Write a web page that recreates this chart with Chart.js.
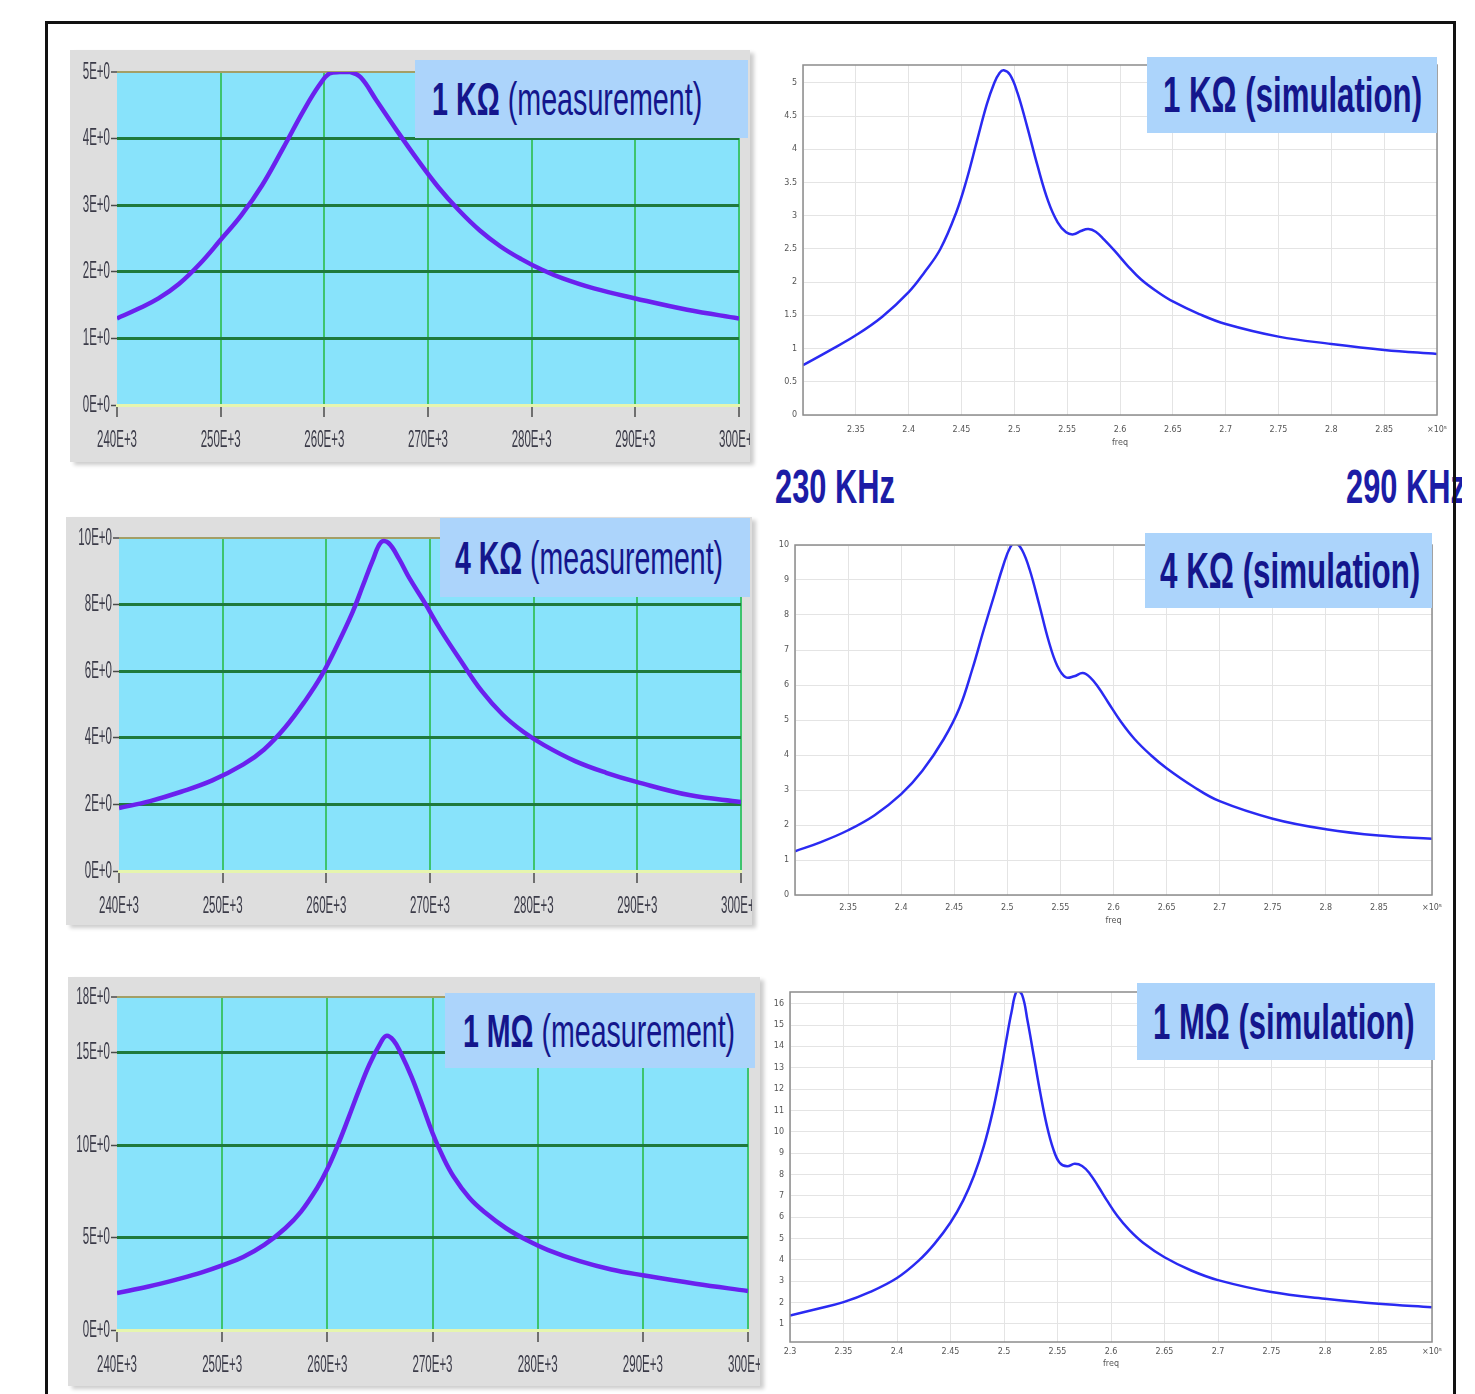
<!DOCTYPE html>
<html>
<head>
<meta charset="utf-8">
<title>Resonance: measurement vs simulation</title>
<script src="https://cdn.jsdelivr.net/npm/chart.js@4.4.1/dist/chart.umd.min.js"></script>
<style>
  html, body { margin: 0; padding: 0; background: #fff; }
  body { position: relative; width: 1475px; height: 1394px; overflow: hidden; font-family: "Liberation Sans", Arial, sans-serif; }
  .panel { position: absolute; background: #dedede; box-shadow: 4px 3px 4px rgba(0, 0, 0, 0.2); overflow: hidden; }
  canvas { position: absolute; display: block; }
  .tag { position: absolute; background: #acd4fb; display: flex; align-items: center; z-index: 3; overflow: hidden; }
  .fit { display: inline-block; white-space: nowrap; transform-origin: 0 50%; color: #14168c; line-height: 1; }
  .fit b { font-weight: bold; }
  .meas .fit { font-size: 46px; }
  .sim .fit { font-size: 50px; font-weight: bold; }
  .frame { position: absolute; background: #111; z-index: 5; }
  .khz { position: absolute; z-index: 2; overflow: hidden; height: 46px; display: flex; align-items: center; }
  .khz .fit { color: #1c1ca6; font-weight: bold; font-size: 48px; }
</style>
</head>
<body>

<div class="frame" style="left:45px;top:21px;width:1411px;height:3px"></div>
<div class="frame" style="left:45px;top:21px;width:3px;height:1373px"></div>
<div class="frame" style="left:1453px;top:21px;width:3px;height:1373px"></div>

<div class="panel" style="left:70px;top:50px;width:680px;height:412px"><canvas id="m1" width="680" height="412"></canvas></div>
<div class="panel" style="left:66px;top:517px;width:686px;height:408px"><canvas id="m2" width="686" height="408"></canvas></div>
<div class="panel" style="left:68px;top:977px;width:692px;height:409px"><canvas id="m3" width="692" height="409"></canvas></div>

<canvas id="s1" width="685" height="398" style="left:765px;top:50px"></canvas>
<canvas id="s2" width="685" height="396" style="left:765px;top:530px"></canvas>
<canvas id="s3" width="685" height="394" style="left:765px;top:975px"></canvas>

<div class="tag meas" style="left:415px;top:60px;width:333px;height:78px"><span class="fit" data-w="270" style="margin-left:17px"><b>1 KΩ</b> (measurement)</span></div>
<div class="tag meas" style="left:440px;top:518px;width:310px;height:79px"><span class="fit" data-w="268" style="margin-left:15px"><b>4 KΩ</b> (measurement)</span></div>
<div class="tag meas" style="left:445px;top:993px;width:310px;height:75px"><span class="fit" data-w="272" style="margin-left:18px"><b>1 MΩ</b> (measurement)</span></div>

<div class="tag sim" style="left:1147px;top:57px;width:290px;height:76px"><span class="fit" data-w="259" style="margin-left:16px">1 KΩ (simulation)</span></div>
<div class="tag sim" style="left:1145px;top:533px;width:287px;height:75px"><span class="fit" data-w="260" style="margin-left:15px">4 KΩ (simulation)</span></div>
<div class="tag sim" style="left:1137px;top:983px;width:298px;height:77px"><span class="fit" data-w="262" style="margin-left:16px">1 MΩ (simulation)</span></div>

<div class="khz" style="left:775px;top:464px;width:140px"><span class="fit" data-w="120">230 KHz</span></div>
<div class="khz" style="left:1346px;top:464px;width:116px"><span class="fit" data-w="120">290 KHz</span></div>

<script>
// measured amplitude vs frequency (kHz)
const MEAS_X_TICKS = [240, 250, 260, 270, 280, 290, 300];

const M1_FREQ = [240, 242, 244, 246, 248, 250, 252, 254, 256, 258, 259.5, 260.5, 261.5, 262.5, 263.5, 265, 267, 269, 271, 273, 275, 277, 279, 281, 283, 286, 290, 295, 300];
const M1_AMP = [1.30, 1.44, 1.60, 1.82, 2.12, 2.48, 2.85, 3.30, 3.85, 4.42, 4.80, 4.98, 5.0, 5.0, 4.92, 4.58, 4.12, 3.68, 3.27, 2.92, 2.62, 2.38, 2.19, 2.03, 1.90, 1.75, 1.60, 1.43, 1.30];
const M1_Y_TICKS = [0, 1, 2, 3, 4, 5];

const M2_FREQ = [240, 243, 246, 249, 252, 254, 256, 258, 259.5, 261, 262.5, 263.5, 264.5, 265.3, 266, 267, 268, 269.5, 271, 273, 275, 277, 279, 281, 284, 287, 290, 295, 300];
const M2_AMP = [1.89, 2.10, 2.38, 2.72, 3.20, 3.65, 4.30, 5.13, 5.85, 6.75, 7.75, 8.55, 9.35, 9.88, 9.85, 9.38, 8.80, 8.05, 7.25, 6.30, 5.40, 4.70, 4.18, 3.78, 3.30, 2.95, 2.67, 2.28, 2.07];
const M2_Y_TICKS = [0, 2, 4, 6, 8, 10];

const M3_FREQ = [240, 243, 246, 248, 250, 252, 254, 256, 257.5, 259, 260, 261, 262, 263, 264, 265, 265.6, 266.3, 267, 268, 269, 270, 271, 272, 273.5, 275, 277, 279, 281, 284, 287, 290, 295, 300];
const M3_AMP = [2.0, 2.35, 2.78, 3.10, 3.49, 3.95, 4.60, 5.50, 6.40, 7.65, 8.70, 10.0, 11.45, 12.95, 14.35, 15.45, 15.9, 15.65, 14.95, 13.7, 12.2, 10.65, 9.35, 8.3, 7.15, 6.35, 5.5, 4.85, 4.32, 3.72, 3.27, 2.96, 2.50, 2.11];
const M3_Y_TICKS = [0, 5, 10, 15, 18];

// simulated amplitude vs frequency (x10^5 Hz)
const SIM_X_TICKS = [2.3, 2.35, 2.4, 2.45, 2.5, 2.55, 2.6, 2.65, 2.7, 2.75, 2.8, 2.85, 2.9];

const S1_FREQ = [2.30, 2.325, 2.35, 2.375, 2.40, 2.415, 2.43, 2.445, 2.455, 2.465, 2.474, 2.481, 2.486, 2.49, 2.496, 2.503, 2.512, 2.522, 2.532, 2.541, 2.549, 2.556, 2.563, 2.570, 2.577, 2.585, 2.595, 2.607, 2.62, 2.635, 2.65, 2.675, 2.70, 2.75, 2.80, 2.85, 2.90];
const S1_AMP = [0.75, 0.97, 1.20, 1.48, 1.85, 2.15, 2.50, 3.05, 3.55, 4.15, 4.68, 5.0, 5.15, 5.19, 5.12, 4.85, 4.35, 3.75, 3.22, 2.90, 2.75, 2.72, 2.77, 2.80, 2.76, 2.64, 2.47, 2.25, 2.04, 1.86, 1.71, 1.52, 1.37, 1.18, 1.07, 0.98, 0.92];
const S1_Y_TICKS = [0, 0.5, 1, 1.5, 2, 2.5, 3, 3.5, 4, 4.5, 5];

const S2_FREQ = [2.30, 2.325, 2.35, 2.375, 2.40, 2.42, 2.44, 2.455, 2.467, 2.478, 2.488, 2.496, 2.503, 2.508, 2.514, 2.521, 2.53, 2.539, 2.547, 2.555, 2.563, 2.571, 2.578, 2.586, 2.595, 2.607, 2.62, 2.635, 2.65, 2.675, 2.70, 2.75, 2.80, 2.85, 2.90];
const S2_AMP = [1.25, 1.52, 1.85, 2.28, 2.88, 3.55, 4.45, 5.35, 6.45, 7.60, 8.60, 9.40, 9.95, 10.05, 9.85, 9.30, 8.30, 7.25, 6.55, 6.22, 6.25, 6.34, 6.22, 5.92, 5.50, 4.95, 4.45, 4.00, 3.62, 3.10, 2.68, 2.18, 1.88, 1.70, 1.61];
const S2_Y_TICKS = [0, 1, 2, 3, 4, 5, 6, 7, 8, 9, 10];

const S3_FREQ = [2.30, 2.325, 2.35, 2.375, 2.40, 2.42, 2.435, 2.45, 2.462, 2.472, 2.481, 2.489, 2.496, 2.502, 2.507, 2.512, 2.517, 2.522, 2.528, 2.534, 2.54, 2.546, 2.552, 2.559, 2.566, 2.573, 2.58, 2.588, 2.596, 2.606, 2.617, 2.63, 2.65, 2.675, 2.70, 2.75, 2.80, 2.85, 2.90];
const S3_AMP = [1.39, 1.70, 2.02, 2.50, 3.15, 3.95, 4.75, 5.75, 6.80, 7.95, 9.30, 10.85, 12.55, 14.25, 15.6, 16.6, 16.4, 15.2, 13.5, 11.8, 10.3, 9.2, 8.55, 8.38, 8.50, 8.40, 8.05, 7.45, 6.80, 6.05, 5.40, 4.80, 4.12, 3.50, 3.05, 2.49, 2.18, 1.94, 1.78];
const S3_Y_TICKS = [1, 2, 3, 4, 5, 6, 7, 8, 9, 10, 11, 12, 13, 14, 15, 16];

Chart.register({
  id: 'plotFill',
  beforeDraw(chart, args, opts) {
    if (!opts.color) return;
    const { ctx, chartArea: a } = chart;
    ctx.save();
    ctx.fillStyle = opts.color;
    ctx.fillRect(a.left, a.top, a.width, a.height);
    ctx.restore();
  }
});

Chart.register({
  id: 'frameBox',
  afterDraw(chart, args, opts) {
    if (!opts.color) return;
    const { ctx, chartArea: a } = chart;
    ctx.save();
    ctx.strokeStyle = opts.color;
    ctx.lineWidth = 1.5;
    ctx.strokeRect(a.left, a.top, a.width, a.height);
    ctx.restore();
  }
});

// LabVIEW-ish squeezed tick labels
function drawSqueezed(ctx, text, px, py, align) {
  ctx.save();
  ctx.translate(px, py);
  ctx.scale(0.48, 1);
  ctx.textAlign = align;
  ctx.fillText(text, 0, 0);
  ctx.restore();
}

const squeezedLabels = {
  id: 'squeezedLabels',
  afterDraw(chart) {
    const { ctx, scales: { x, y } } = chart;
    ctx.save();
    ctx.fillStyle = '#3b3b48';
    ctx.font = '24px "Liberation Sans", Arial';
    ctx.textBaseline = 'middle';
    y.ticks.forEach(t => drawSqueezed(ctx, t.value + 'E+0', x.left - 7, y.getPixelForValue(t.value), 'right'));
    x.ticks.forEach(t => drawSqueezed(ctx, t.value + 'E+3', x.getPixelForValue(t.value), x.top + 35, 'center'));
    ctx.restore();
  }
};

function points(freq, amp) {
  return freq.map((f, i) => ({ x: f, y: amp[i] }));
}

function makeMeasChart(id, freq, amp, yTicks, box) {
  const yTop = yTicks[yTicks.length - 1];
  return new Chart(document.getElementById(id), {
    type: 'line',
    data: {
      datasets: [{
        data: points(freq, amp),
        borderColor: '#6a21ee',
        borderWidth: 4.5,
        pointRadius: 0,
        tension: 0.4,
        fill: false
      }]
    },
    options: {
      responsive: false,
      animation: false,
      events: [],
      layout: { padding: { top: box.pt, right: box.pr, left: 0, bottom: 0 } },
      plugins: {
        legend: { display: false },
        tooltip: { enabled: false },
        plotFill: { color: '#88e3fb' }
      },
      scales: {
        x: {
          type: 'linear',
          min: MEAS_X_TICKS[0],
          max: MEAS_X_TICKS[MEAS_X_TICKS.length - 1],
          afterBuildTicks: s => { s.ticks = MEAS_X_TICKS.map(v => ({ value: v })); },
          afterFit: s => { s.height = box.xH; s.paddingLeft = 0; s.paddingRight = 0; },
          ticks: { display: false },
          grid: {
            color: c => c.index === 0 ? 'rgba(0,0,0,0)' : '#3ec46e',
            lineWidth: 2,
            tickColor: '#4a4a4a',
            tickLength: 12,
            tickWidth: 1.5
          },
          border: { display: true, color: '#e6f5ae', width: 3 }
        },
        y: {
          min: 0,
          max: yTop,
          afterBuildTicks: s => { s.ticks = yTicks.map(v => ({ value: v })); },
          afterFit: s => { s.width = box.yW; s.paddingTop = 0; s.paddingBottom = 0; },
          ticks: { display: false },
          grid: {
            color: c => c.tick.value === yTop ? '#a39f66' : c.tick.value === 0 ? 'rgba(0,0,0,0)' : '#1f7a3c',
            lineWidth: c => c.tick.value === yTop ? 2 : 3,
            tickColor: '#4a4a4a',
            tickLength: 6,
            tickWidth: 1.5
          },
          border: { display: false }
        }
      }
    },
    plugins: [squeezedLabels]
  });
}

function makeSimChart(id, freq, amp, yTicks, yMin, yMax, box, showFirstX) {
  const last = SIM_X_TICKS.length - 1;
  return new Chart(document.getElementById(id), {
    type: 'line',
    data: {
      datasets: [{
        data: points(freq, amp),
        borderColor: '#2a2af2',
        borderWidth: 2.5,
        pointRadius: 0,
        tension: 0.4,
        fill: false
      }]
    },
    options: {
      responsive: false,
      animation: false,
      events: [],
      layout: { padding: { top: box.pt, right: box.pr, left: 0, bottom: 0 } },
      plugins: {
        legend: { display: false },
        tooltip: { enabled: false },
        frameBox: { color: '#8c8c8c' }
      },
      scales: {
        x: {
          type: 'linear',
          min: SIM_X_TICKS[0],
          max: SIM_X_TICKS[last],
          afterBuildTicks: s => { s.ticks = SIM_X_TICKS.map(v => ({ value: v })); },
          afterFit: s => { s.height = box.xH; s.paddingLeft = 0; s.paddingRight = 0; },
          ticks: {
            autoSkip: false,
            maxRotation: 0,
            padding: box.lp,
            color: '#555',
            font: { size: 8, family: '"DejaVu Sans", sans-serif' },
            callback: (v, i) => {
              if (i === 0 && !showFirstX) return '';
              if (i === last) return '×10⁵';
              return String(+v.toFixed(2));
            }
          },
          grid: { color: '#e4e4e4', lineWidth: 1, drawTicks: false },
          border: { display: false },
          title: { display: true, text: 'freq', color: '#555', font: { size: 8, family: '"DejaVu Sans", sans-serif' }, padding: 0 }
        },
        y: {
          min: yMin,
          max: yMax,
          afterBuildTicks: s => { s.ticks = yTicks.map(v => ({ value: v })); },
          afterFit: s => { s.width = box.yW; s.paddingTop = 0; s.paddingBottom = 0; },
          ticks: {
            padding: 6,
            color: '#555',
            font: { size: 8, family: '"DejaVu Sans", sans-serif' },
            callback: v => String(v)
          },
          grid: { color: '#e4e4e4', lineWidth: 1, drawTicks: false },
          border: { display: false }
        }
      }
    }
  });
}

makeMeasChart('m1', M1_FREQ, M1_AMP, M1_Y_TICKS, { yW: 47, xH: 57, pt: 22, pr: 11 });
makeMeasChart('m2', M2_FREQ, M2_AMP, M2_Y_TICKS, { yW: 53, xH: 54, pt: 21, pr: 11 });
makeMeasChart('m3', M3_FREQ, M3_AMP, M3_Y_TICKS, { yW: 49, xH: 56, pt: 20, pr: 12 });

makeSimChart('s1', S1_FREQ, S1_AMP, S1_Y_TICKS, 0, 5.27, { yW: 38, xH: 33, pt: 15, pr: 13, lp: 10 }, false);
makeSimChart('s2', S2_FREQ, S2_AMP, S2_Y_TICKS, 0, 10, { yW: 30, xH: 31, pt: 15, pr: 18, lp: 8 }, false);
makeSimChart('s3', S3_FREQ, S3_AMP, S3_Y_TICKS, 0.15, 16.55, { yW: 25, xH: 27, pt: 17, pr: 18, lp: 5 }, true);

// squeeze the title texts to the widths seen in the picture
document.querySelectorAll('.fit').forEach(el => {
  const w = Number(el.dataset.w);
  el.style.transform = 'scaleX(' + (w / el.offsetWidth).toFixed(3) + ')';
});
</script>
</body>
</html>
